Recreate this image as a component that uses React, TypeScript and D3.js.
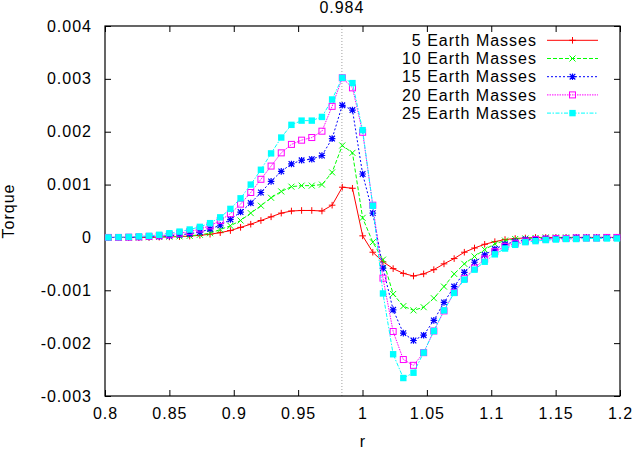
import { useEffect, useRef } from "react"
import * as d3 from "d3"

// radius grid (one point per cell)
const rValues = [
  0.8026, 0.8105, 0.8184, 0.8263, 0.8342, 0.8421, 0.85, 0.8579, 0.8658, 0.8737,
  0.8816, 0.8895, 0.8974, 0.9053, 0.9132, 0.9211, 0.929, 0.9369, 0.9448, 0.9527,
  0.9606, 0.9685, 0.9764, 0.9843, 0.9922, 1.0001, 1.008, 1.0159, 1.0238, 1.0317,
  1.0396, 1.0475, 1.0554, 1.0633, 1.0712, 1.0791, 1.087, 1.0949, 1.1028, 1.1107,
  1.1186, 1.1265, 1.1344, 1.1423, 1.1502, 1.1581, 1.166, 1.1739, 1.1818, 1.1897,
  1.1976,
]

const torque5 = [
  0, 0, 0, 0, 0, 0.000005, 0.00001, 0.000015, 0.000025, 0.00004,
  0.00006, 0.00009, 0.00013, 0.00019, 0.00025, 0.00032, 0.00039, 0.00046, 0.0005, 0.00051,
  0.00051, 0.0005, 0.00061, 0.00095, 0.00093, 0.00003, -0.00028, -0.00046, -0.00059, -0.00068,
  -0.00073, -0.00069, -0.00061, -0.0005, -0.0004, -0.00028, -0.0002, -0.00013, -0.00008, -0.00004,
  -0.00002, -0.00001, 0, 0, 0, 0, 0, 0, 0, 0,
  0,
]

const torque10 = [
  0, 0, 0, 0, 0.000005, 0.00001, 0.000015, 0.00002, 0.00003, 0.00005,
  0.00008, 0.00015, 0.00022, 0.00032, 0.00046, 0.0006, 0.00075, 0.00087, 0.00096, 0.00098,
  0.00098, 0.001, 0.00123, 0.00174, 0.0016, 0.00037, -0.00009, -0.00042, -0.00107, -0.0013,
  -0.00138, -0.00132, -0.00115, -0.00093, -0.00069, -0.0005, -0.00036, -0.00023, -0.00012, -0.00006,
  -0.00003, -0.00002, -0.00001, 0, 0, 0, 0, 0, 0, 0,
  0,
]

const torque15 = [
  0, 0, 0, 0.000005, 0.00001, 0.00002, 0.00003, 0.00005, 0.00007, 0.0001,
  0.00016, 0.00023, 0.00034, 0.00048, 0.00065, 0.00085, 0.00106, 0.00125, 0.00139, 0.00146,
  0.00148, 0.00155, 0.00187, 0.0025, 0.00241, 0.0012, 0.00046, -0.00058, -0.00137, -0.00181,
  -0.00195, -0.00185, -0.00157, -0.00123, -0.00093, -0.00066, -0.00047, -0.00033, -0.00022, -0.00013,
  -0.00008, -0.00004, -0.00003, -0.00002, -0.00001, -0.00001, 0, 0, 0, 0,
  0,
]

const torque20 = [
  0, 0, 0.000005, 0.00001, 0.00002, 0.00003, 0.00005, 0.00008, 0.00011, 0.00016,
  0.00022, 0.00032, 0.00045, 0.00063, 0.00085, 0.0011, 0.00135, 0.0016, 0.00176, 0.00184,
  0.00189, 0.00201, 0.00248, 0.00302, 0.00283, 0.00199, 0.00061, -0.00077, -0.00178, -0.00231,
  -0.00242, -0.00218, -0.00177, -0.00139, -0.00104, -0.00078, -0.00058, -0.00041, -0.00027, -0.00017,
  -0.00011, -0.00007, -0.00004, -0.00003, -0.00002, -0.00002, -0.00001, -0.00001, -0.00001, 0,
  0,
]

const torque25 = [
  0, 0.000005, 0.00001, 0.00002, 0.00003, 0.00005, 0.00008, 0.00011, 0.00015, 0.0002,
  0.00027, 0.00038, 0.00054, 0.00074, 0.001, 0.00128, 0.00159, 0.00189, 0.00213, 0.00221,
  0.00221, 0.00228, 0.00261, 0.00302, 0.00292, 0.00203, 0.0006, -0.00106, -0.00221, -0.00266,
  -0.00256, -0.00218, -0.00177, -0.00138, -0.00105, -0.0008, -0.00061, -0.00046, -0.00032, -0.00021,
  -0.00014, -0.00009, -0.00007, -0.00005, -0.00004, -0.00003, -0.00003, -0.00002, -0.00002, -0.00002,
  -0.00002,
]

const seriesLabels = ["5 Earth Masses", "10 Earth Masses", "15 Earth Masses", "20 Earth Masses", "25 Earth Masses"]
const xTicks = [0.8, 0.85, 0.9, 0.95, 1, 1.05, 1.1, 1.15, 1.2]
const yTicks = [-0.003, -0.002, -0.001, 0, 0.001, 0.002, 0.003, 0.004]
const markR = 0.984

const colors = ["#ff0000", "#00ff00", "#0000ff", "#ff00ff", "#00ffff"]
const dashes = ["none", "4,2", "2,2", "1.5,1", "4,1.5,1.5,1.5"]
const markers = ["plus", "cross", "star", "openSquare", "fillSquare"]

const FONT = "'Liberation Sans', Arial, Helvetica, sans-serif"

function drawMarker(g: d3.Selection<SVGGElement, unknown, null, undefined>, kind: string, color: string, cx: number, cy: number) {
  const s = 3.3
  if (kind === "plus") {
    g.append("path").attr("d", `M${cx - s},${cy}H${cx + s}M${cx},${cy - s}V${cy + s}`).attr("stroke", color).attr("stroke-width", 1)
  } else if (kind === "cross") {
    g.append("path").attr("d", `M${cx - 3},${cy - 3}L${cx + 3},${cy + 3}M${cx - 3},${cy + 3}L${cx + 3},${cy - 3}`).attr("stroke", color).attr("stroke-width", 1)
  } else if (kind === "star") {
    g.append("path")
      .attr("d", `M${cx - s},${cy}H${cx + s}M${cx},${cy - s}V${cy + s}M${cx - 2.8},${cy - 2.8}L${cx + 2.8},${cy + 2.8}M${cx - 2.8},${cy + 2.8}L${cx + 2.8},${cy - 2.8}`)
      .attr("stroke", color).attr("stroke-width", 1.2)
  } else if (kind === "openSquare") {
    g.append("rect").attr("x", cx - 3).attr("y", cy - 3).attr("width", 6).attr("height", 6)
      .attr("fill", "none").attr("stroke", color).attr("stroke-width", 1)
  } else {
    g.append("rect").attr("x", cx - 3.2).attr("y", cy - 3.2).attr("width", 6.4).attr("height", 6.4).attr("fill", color)
  }
}

export default function App() {
  const ref = useRef<SVGSVGElement | null>(null)

  useEffect(() => {
    const svg = d3.select(ref.current)
    svg.selectAll("*").remove()

    const width = 634
    const height = 449
    const left = 105, right = 620, top = 26, bottom = 396

    const x = d3.scaleLinear().domain([0.8, 1.2]).range([left, right])
    const y = d3.scaleLinear().domain([-0.003, 0.004]).range([bottom, top])

    svg.attr("width", width).attr("height", height)
    svg.append("rect").attr("width", width).attr("height", height).attr("fill", "#fff")

    const fmtX = (d: d3.NumberValue) => String(+(+d).toFixed(2))
    const fmtY = (d: d3.NumberValue) => (+d === 0 ? "0" : (+d).toFixed(3))

    // axes (ticks inward, mirrored)
    const axB = svg.append("g").attr("transform", `translate(0,${bottom})`)
      .call(d3.axisBottom(x).tickValues(xTicks).tickFormat(fmtX).tickSizeInner(-6).tickSizeOuter(0).tickPadding(12))
    const axT = svg.append("g").attr("transform", `translate(0,${top})`)
      .call(d3.axisTop(x).tickValues(xTicks).tickFormat(() => "").tickSizeInner(-6).tickSizeOuter(0))
    const axL = svg.append("g").attr("transform", `translate(${left},0)`)
      .call(d3.axisLeft(y).tickValues(yTicks).tickFormat(fmtY).tickSizeInner(-6).tickSizeOuter(0).tickPadding(13))
    const axR = svg.append("g").attr("transform", `translate(${right},0)`)
      .call(d3.axisRight(y).tickValues(yTicks).tickFormat(() => "").tickSizeInner(-6).tickSizeOuter(0))

    for (const ax of [axB, axT, axL, axR]) {
      ax.select(".domain").remove()
      ax.selectAll("line").attr("stroke", "#000").attr("stroke-width", 1)
      ax.selectAll("text").attr("font-family", FONT).attr("font-size", 16).attr("letter-spacing", 1).attr("fill", "#000")
    }

    // x2 label with dotted grid line
    svg.append("line")
      .attr("x1", x(markR)).attr("x2", x(markR)).attr("y1", top).attr("y2", bottom)
      .attr("stroke", "#a0a0a0").attr("stroke-width", 1).attr("stroke-dasharray", "1,2")
    svg.append("text")
      .attr("x", x(markR)).attr("y", 12.5).attr("text-anchor", "middle")
      .attr("font-family", FONT).attr("font-size", 16).attr("letter-spacing", 1)
      .text(String(markR))

    // border
    svg.append("rect")
      .attr("x", left).attr("y", top).attr("width", right - left).attr("height", bottom - top)
      .attr("fill", "none").attr("stroke", "#000").attr("stroke-width", 1.2)

    // axis titles
    svg.append("text")
      .attr("x", (left + right) / 2).attr("y", 447).attr("text-anchor", "middle")
      .attr("font-family", FONT).attr("font-size", 16).text("r")
    svg.append("text")
      .attr("transform", `translate(14,${(top + bottom) / 2}) rotate(-90)`).attr("text-anchor", "middle")
      .attr("font-family", FONT).attr("font-size", 16).attr("letter-spacing", 1).text("Torque")

    const series = [torque5, torque10, torque15, torque20, torque25]
    const line = d3.line<number>().x((_, i) => x(rValues[i])).y(d => y(d))

    series.forEach((vals, k) => {
      const g = svg.append("g")
      g.append("path")
        .attr("d", line(vals)!)
        .attr("fill", "none").attr("stroke", colors[k]).attr("stroke-width", 1)
        .attr("stroke-dasharray", dashes[k])
      vals.forEach((v, i) => drawMarker(g, markers[k], colors[k], x(rValues[i]), y(v)))

      // key entry
      const ky = 40.3 + k * 18.2
      g.append("text")
        .attr("x", 537).attr("y", ky).attr("dy", "0.35em").attr("text-anchor", "end")
        .attr("font-family", FONT).attr("font-size", 16).attr("letter-spacing", 1)
        .text(seriesLabels[k])
      g.append("line")
        .attr("x1", 547).attr("x2", 598).attr("y1", ky).attr("y2", ky)
        .attr("stroke", colors[k]).attr("stroke-width", 1).attr("stroke-dasharray", dashes[k])
      drawMarker(g, markers[k], colors[k], 572.5, ky)
    })
  }, [])

  return <svg ref={ref} style={{ position: "absolute", left: 0, top: 0, display: "block" }} />
}
